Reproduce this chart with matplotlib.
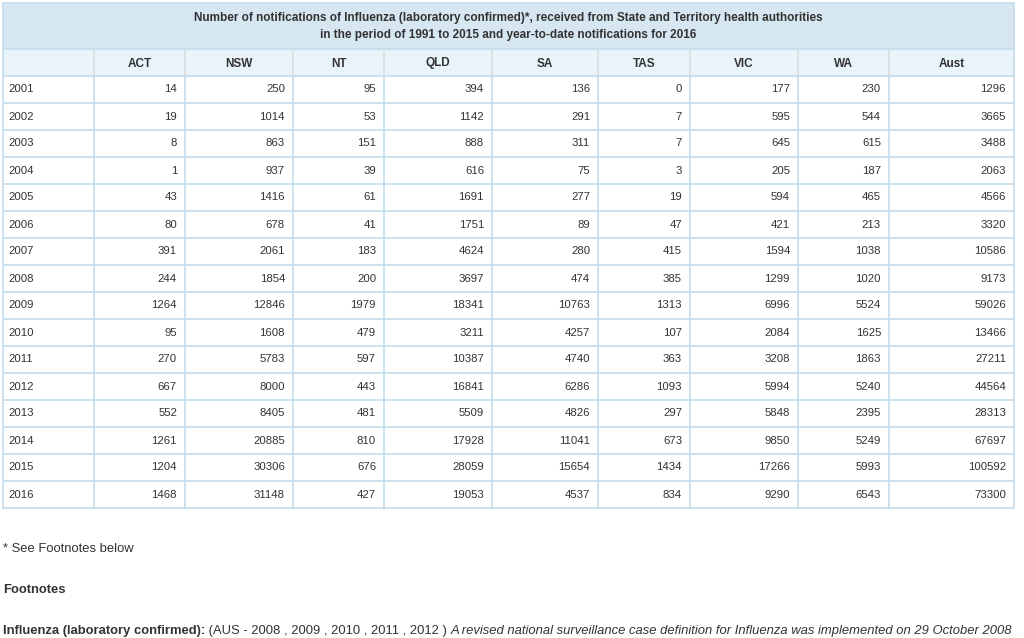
#!/usr/bin/env python3
# Influenza notifications table, redrawn as a matplotlib figure

import matplotlib
matplotlib.use("Agg")
import matplotlib.pyplot as plt
from matplotlib.patches import Rectangle
from matplotlib.font_manager import findfont, FontProperties
from matplotlib.ft2font import FT2Font

plt.rcParams['font.family'] = ['Liberation Sans', 'DejaVu Sans']

# Data
title_lines = [
    "Number of notifications of Influenza (laboratory confirmed)*, received from State and Territory health authorities",
    "in the period of 1991 to 2015 and year-to-date notifications for 2016",
]
states = ["ACT", "NSW", "NT", "QLD", "SA", "TAS", "VIC", "WA", "Aust"]
years = list(range(2001, 2017))
act = [14, 19, 8, 1, 43, 80, 391, 244, 1264, 95, 270, 667, 552, 1261, 1204, 1468]
nsw = [250, 1014, 863, 937, 1416, 678, 2061, 1854, 12846, 1608, 5783, 8000, 8405, 20885, 30306, 31148]
nt = [95, 53, 151, 39, 61, 41, 183, 200, 1979, 479, 597, 443, 481, 810, 676, 427]
qld = [394, 1142, 888, 616, 1691, 1751, 4624, 3697, 18341, 3211, 10387, 16841, 5509, 17928, 28059, 19053]
sa = [136, 291, 311, 75, 277, 89, 280, 474, 10763, 4257, 4740, 6286, 4826, 11041, 15654, 4537]
tas = [0, 7, 7, 3, 19, 47, 415, 385, 1313, 107, 363, 1093, 297, 673, 1434, 834]
vic = [177, 595, 645, 205, 594, 421, 1594, 1299, 6996, 2084, 3208, 5994, 5848, 9850, 17266, 9290]
wa = [230, 544, 615, 187, 465, 213, 1038, 1020, 5524, 1625, 1863, 5240, 2395, 5249, 5993, 6543]
aust = [1296, 3665, 3488, 2063, 4566, 3320, 10586, 9173, 59026, 13466, 27211, 44564, 28313, 67697, 100592, 73300]
columns = [act, nsw, nt, qld, sa, tas, vic, wa, aust]

footnote_star = "* See Footnotes below"
footnote_head = "Footnotes"
fn_bold = "Influenza (laboratory confirmed):"
fn_plain = " (AUS - 2008 , 2009 , 2010 , 2011 , 2012 ) "
fn_italic = "A revised national surveillance case definition for Influenza was implemented on 29 October 2008"

# Layout (pixels)
col_edges = [3, 94, 185, 293, 384, 492, 598, 690, 798, 889, 1014]
title_top, title_bot = 3, 49
head_bot = 76
row_h = 27
pad = 8

TITLE_BG = "#d6e7f2"
HEAD_BG = "#e9f3fa"
BORDER = "#c3dbeb"
HEAD_SEP = "#d6dde2"
TEXT = "#333333"
FS = 8.2
FS_TITLE = 8.5
FS_NOTE = 9.4

fig = plt.figure(figsize=(10.24, 6.38), dpi=100)
ax = fig.add_axes([0, 0, 1, 1])
ax.set_xlim(0, 1024)
ax.set_ylim(638, 0)
ax.axis('off')

# agg shifts labels with a descender (the Q tail) down a bit; nudge them back
bold_font = FT2Font(findfont(FontProperties(family='Liberation Sans', weight='bold')))
bold_font.set_size(FS_TITLE, 100)


def descent_px(s):
    bold_font.set_text(s)
    return bold_font.get_descent() / 64.0


left, right = col_edges[0], col_edges[-1]
table_bot = head_bot + row_h * len(years)

# backgrounds
ax.add_patch(Rectangle((left, title_top), right - left, title_bot - title_top,
                       facecolor=TITLE_BG, edgecolor='none'))
ax.add_patch(Rectangle((left, title_bot), right - left, head_bot - title_bot,
                       facecolor=HEAD_BG, edgecolor='none'))

# title
for k, line in enumerate(title_lines):
    ax.text((left + right) / 2, 21 + 17 * k, line, ha='center', va='baseline',
            fontsize=FS_TITLE, fontweight='bold', color=TEXT)

# header
for i, name in enumerate(states):
    cx = (col_edges[i + 1] + col_edges[i + 2]) / 2
    ax.text(cx, 67 - 0.4 * descent_px(name), name, ha='center', va='baseline',
            fontsize=FS_TITLE, fontweight='bold', color=TEXT)

# body
for r, yr in enumerate(years):
    cy = head_bot + row_h * r + row_h / 2
    ax.text(col_edges[0] + 5, cy, str(yr), ha='left', va='center',
            fontsize=FS, color=TEXT)
    for c, vals in enumerate(columns):
        ax.text(col_edges[c + 2] - pad, cy, str(vals[r]), ha='right',
                va='center', fontsize=FS, color=TEXT)

# grid lines
for r in range(len(years) + 2):
    y = title_bot + row_h * r if r == 0 else head_bot + row_h * (r - 1)
    ax.plot([left, right], [y, y], color=BORDER, lw=1.2, solid_capstyle='butt')
ax.plot([left, right], [title_top, title_top], color=BORDER, lw=1.2)
for i, x in enumerate(col_edges):
    if i in (0, len(col_edges) - 1):
        ax.plot([x, x], [title_top, table_bot], color=BORDER, lw=1.2)
    else:
        ax.plot([x, x], [title_bot, head_bot], color=HEAD_SEP, lw=1.2)
        ax.plot([x, x], [head_bot, table_bot], color=BORDER, lw=1.2)

# footnotes
ax.text(3, 549, footnote_star, ha='left', va='center', fontsize=FS_NOTE, color=TEXT)
ax.text(3, 590, footnote_head, ha='left', va='center', fontsize=FS_NOTE,
        fontweight='bold', color=TEXT)

fig.canvas.draw()
renderer = fig.canvas.get_renderer()
x0 = 3
for txt, kw in [(fn_bold, dict(fontweight='bold')),
                (fn_plain, dict()),
                (fn_italic, dict(fontstyle='italic'))]:
    t = ax.text(x0, 634, txt, ha='left', va='baseline', fontsize=FS_NOTE,
                color=TEXT, **kw)
    bb = t.get_window_extent(renderer)
    x0 = ax.transData.inverted().transform((bb.x1, 0))[0]

fig.savefig("out.png", dpi=100)
